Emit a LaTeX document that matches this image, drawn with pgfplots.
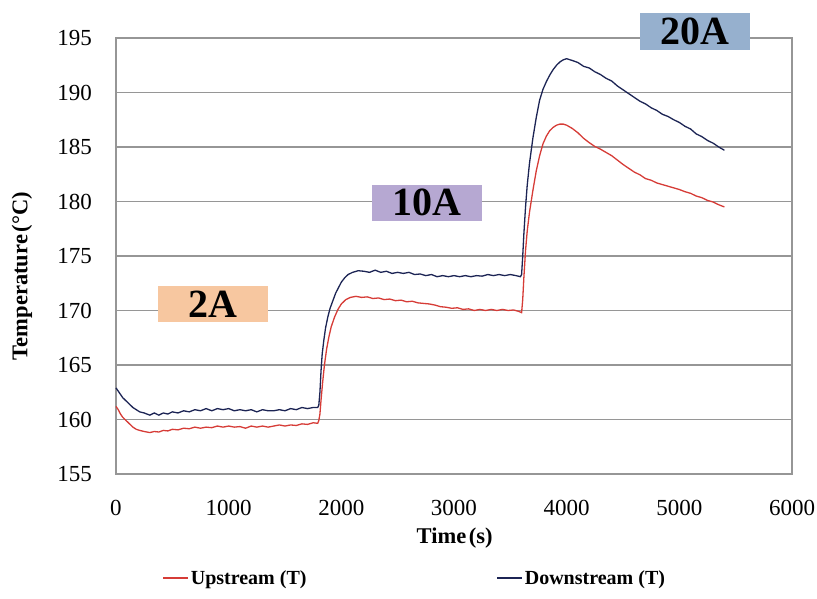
\documentclass[border=0pt]{standalone}
\usepackage{fontspec}
\setmainfont{Liberation Serif}
\usepackage{pgfplots}
\pgfplotsset{compat=1.18}
\definecolor{upred}{RGB}{214,60,55}
\definecolor{downblue}{RGB}{28,36,84}
\definecolor{gridgray}{RGB}{150,150,150}
\definecolor{boxpeach}{RGB}{247,199,160}
\definecolor{boxlav}{RGB}{182,168,210}
\definecolor{boxblue}{RGB}{150,176,206}
\begin{document}
\begin{tikzpicture}
\path[use as bounding box] (-116pt,-125pt) rectangle (701pt,474pt);
\begin{axis}[at={(0pt,0pt)}, anchor=south west, scale only axis,
  width=676pt, height=436pt,
  xmin=0, xmax=6000, ymin=155, ymax=195,
  xtick={0,1000,...,6000}, ytick={155,160,...,195},
  ymajorgrids, grid style={gridgray, line width=1.2pt},
  axis line style={gridgray, line width=1.2pt},
  major tick length=0pt,
  clip=false,
  /pgf/number format/assume math mode=true,
  /pgf/number format/1000 sep={},
  ticklabel style={font=\fontsize{23}{27}\selectfont, inner sep=0pt},
  yticklabel style={anchor=east, xshift=-24pt},
  xticklabel style={anchor=north, yshift=-26pt},
  xlabel={Time\hspace{0.12em}(s)}, ylabel={Temperature\hspace{0.12em}(°C)},
  label style={font=\bfseries\fontsize{22.5}{26}\selectfont, inner sep=0pt},
  xlabel style={at={(axis description cs:0.501,-0.147)}, anchor=center},
  ylabel style={at={(axis description cs:-0.139,0.454)}, anchor=center, rotate=0},
  legend columns=2,
  legend style={at={(axis description cs:0.442,-0.2385)}, anchor=center, draw=none, fill=none,
    font=\bfseries\fontsize{20}{23}\selectfont,
    /tikz/every even column/.append style={column sep=188pt}},
  legend image code/.code={\draw[#1] (0pt,0pt) -- (25pt,0pt);},
]
\addplot[upred, line width=1.3pt] coordinates {
(0,161.2)(20,160.9)(40,160.5)(60,160.2)(90,159.9)(120,159.6)(150,159.3)(180,159.1)(210,159.0)(250,158.9)
(300,158.8)(340,158.9)(380,158.85)(420,159.0)(460,158.95)(500,159.1)(550,159.05)(600,159.2)(650,159.15)(700,159.3)
(750,159.2)(800,159.3)(850,159.25)(900,159.4)(950,159.3)(1000,159.4)(1050,159.3)(1100,159.35)(1150,159.2)(1200,159.4)
(1250,159.3)(1300,159.4)(1350,159.3)(1400,159.4)(1450,159.5)(1500,159.4)(1550,159.5)(1600,159.45)(1650,159.6)(1700,159.55)
(1750,159.7)(1790,159.65)(1800,159.9)(1810,160.5)(1820,161.8)(1835,163.5)(1850,165.0)(1870,166.5)(1890,167.6)(1910,168.5)
(1940,169.4)(1970,170.1)(2000,170.6)(2040,171.0)(2080,171.2)(2130,171.3)(2180,171.2)(2230,171.25)(2280,171.1)(2330,171.15)
(2380,171.0)(2430,171.05)(2480,170.9)(2530,170.95)(2580,170.8)(2630,170.85)(2680,170.7)(2730,170.65)(2780,170.6)(2830,170.5)
(2880,170.35)(2930,170.3)(2980,170.2)(3030,170.25)(3080,170.1)(3130,170.15)(3180,170.0)(3230,170.1)(3280,170.0)(3330,170.1)
(3380,170.0)(3430,170.1)(3480,170.0)(3530,170.05)(3580,169.9)(3600,169.8)(3610,171.0)(3620,173.0)(3635,175.5)(3650,177.3)
(3670,179.0)(3700,181.0)(3730,182.8)(3760,184.2)(3790,185.3)(3820,186.0)(3850,186.5)(3880,186.8)(3910,187.0)(3940,187.1)
(3970,187.1)(4000,187.0)(4050,186.7)(4100,186.3)(4150,185.8)(4200,185.4)(4250,185.05)(4300,184.8)(4350,184.5)(4400,184.2)
(4450,183.8)(4500,183.4)(4550,183.05)(4600,182.7)(4650,182.45)(4700,182.1)(4750,181.95)(4800,181.7)(4850,181.55)(4900,181.4)
(4950,181.25)(5000,181.1)(5050,180.9)(5100,180.75)(5150,180.5)(5200,180.35)(5250,180.1)(5300,179.95)(5350,179.7)(5400,179.5)
};
\addlegendentry{Upstream (T)}
\addplot[downblue, line width=1.3pt] coordinates {
(0,162.9)(20,162.6)(40,162.3)(60,162.0)(90,161.7)(120,161.4)(150,161.1)(180,160.9)(210,160.7)(250,160.6)
(300,160.4)(340,160.6)(380,160.4)(420,160.6)(460,160.5)(500,160.7)(550,160.6)(600,160.8)(650,160.7)(700,160.9)
(750,160.8)(800,161.0)(850,160.8)(900,161.0)(950,160.9)(1000,161.0)(1050,160.8)(1100,160.9)(1150,160.8)(1200,160.9)
(1250,160.7)(1300,160.9)(1350,160.8)(1400,160.8)(1450,160.9)(1500,160.8)(1550,161.0)(1600,160.9)(1650,161.1)(1700,161.0)
(1750,161.1)(1790,161.1)(1800,161.3)(1810,162.5)(1820,164.5)(1830,166.0)(1845,167.3)(1860,168.4)(1880,169.4)(1900,170.2)
(1925,170.9)(1950,171.6)(1975,172.1)(2000,172.6)(2030,173.0)(2060,173.3)(2100,173.5)(2150,173.65)(2200,173.6)(2250,173.5)
(2300,173.7)(2350,173.5)(2400,173.6)(2450,173.4)(2500,173.5)(2550,173.4)(2600,173.5)(2650,173.3)(2700,173.35)(2750,173.2)
(2800,173.3)(2850,173.1)(2900,173.2)(2950,173.1)(3000,173.2)(3050,173.1)(3100,173.2)(3150,173.1)(3200,173.2)(3250,173.15)
(3300,173.3)(3350,173.2)(3400,173.3)(3450,173.2)(3500,173.3)(3550,173.2)(3590,173.1)(3600,173.3)(3610,175.0)(3620,177.0)
(3635,179.5)(3650,181.5)(3670,183.5)(3700,185.8)(3730,187.7)(3760,189.3)(3790,190.3)(3820,191.0)(3850,191.6)(3880,192.1)
(3910,192.5)(3940,192.8)(3970,193.0)(4000,193.1)(4030,193.0)(4060,192.9)(4100,192.75)(4150,192.4)(4200,192.25)(4250,191.9)
(4300,191.65)(4350,191.3)(4400,191.05)(4450,190.6)(4500,190.25)(4550,189.9)(4600,189.55)(4650,189.2)(4700,188.95)(4750,188.6)
(4800,188.35)(4850,188.0)(4900,187.8)(4950,187.5)(5000,187.25)(5050,186.9)(5100,186.65)(5150,186.2)(5200,185.95)(5250,185.6)
(5300,185.35)(5350,185.0)(5400,184.7)
};
\addlegendentry{Downstream (T)}
\node[fill=boxpeach, minimum width=110pt, minimum height=36pt, inner sep=0pt,
  font=\bfseries\fontsize{40}{40}\selectfont] at (axis cs:862,170.6) {2A};
\node[fill=boxlav, minimum width=110pt, minimum height=36pt, inner sep=0pt,
  font=\bfseries\fontsize{40}{40}\selectfont] at (axis cs:2764,179.9) {10A};
\node[fill=boxblue, minimum width=110pt, minimum height=37pt, inner sep=0pt,
  font=\bfseries\fontsize{40}{40}\selectfont] at (axis cs:5138,195.6) {20A};
\end{axis}
\end{tikzpicture}
\end{document}
